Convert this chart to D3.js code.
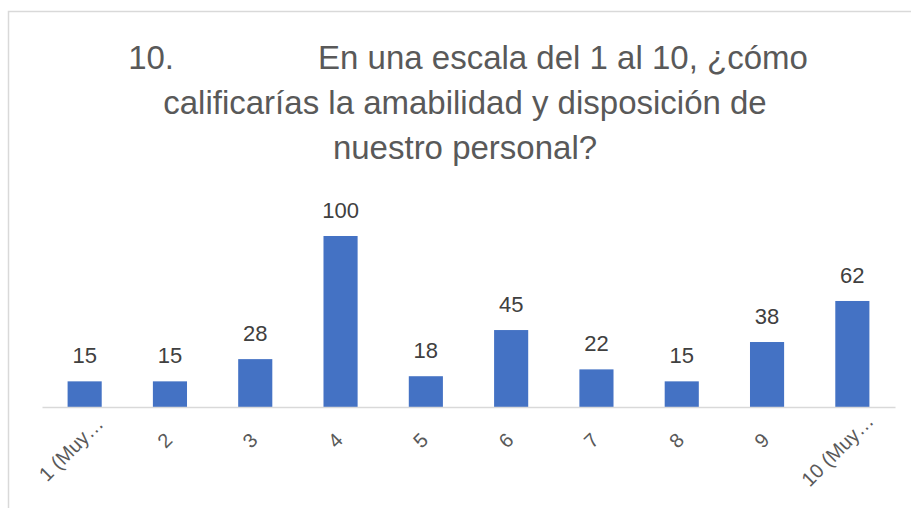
<!DOCTYPE html>
<html>
<head>
<meta charset="utf-8">
<script src="https://cdn.jsdelivr.net/npm/d3@7"></script>
<style>
  body { margin: 0; background: #fff; }
  text { font-family: "Liberation Sans", Arial, sans-serif; }
</style>
</head>
<body>
<div id="chart"></div>
<script>
// categories as shown on the x axis (Excel truncates the long ones)
var categories = ["1 (Muy…", "2", "3", "4", "5", "6", "7", "8", "9", "10 (Muy…"];
// number of answers per rating
var counts = [15, 15, 28, 100, 18, 45, 22, 15, 38, 62];
// title lines
var titleLine1 = ["10.", "En una escala del 1 al 10, ¿cómo"];
var titleLines = ["calificarías la amabilidad y disposición de", "nuestro personal?"];

var svgWidth = 911;
var svgHeight = 508;

var plot = { left: 42, right: 895, top: 236, bottom: 407 };

var svg = d3.select("#chart")
  .append("svg")
  .attr("width", svgWidth)
  .attr("height", svgHeight);

// chart border (only top and left are inside the picture)
svg.append("rect")
  .attr("x", 8.5)
  .attr("y", 11.5)
  .attr("width", 960)
  .attr("height", 560)
  .attr("fill", "#fff")
  .attr("stroke", "#d9d9d9")
  .attr("stroke-width", 1.5);

// title
var titleX = 468;
var t1 = svg.append("text")
  .attr("x", titleX)
  .attr("y", 69)
  .attr("text-anchor", "middle")
  .attr("font-size", 33)
  .attr("fill", "#595959");
t1.append("tspan").text(titleLine1[0]);
t1.append("tspan").attr("dx", 144).text(titleLine1[1]);

titleLines.forEach((line, i) => {
  svg.append("text")
    .attr("x", 465)
    .attr("y", 114 + i * 45)
    .attr("text-anchor", "middle")
    .attr("font-size", 33)
    .attr("fill", "#595959")
    .text(line);
});

// scales
var xScale = d3.scaleBand()
  .domain(categories)
  .range([plot.left, plot.right])
  .paddingInner(0.6)
  .paddingOuter(0.3);

var yScale = d3.scaleLinear()
  .domain([0, 100])
  .range([plot.bottom, plot.top]);

// bars
svg.append("g")
  .selectAll("rect")
  .data(counts)
  .enter().append("rect")
  .attr("x", (d, i) => xScale(categories[i]))
  .attr("y", d => yScale(d))
  .attr("width", xScale.bandwidth())
  .attr("height", d => yScale(0) - yScale(d))
  .attr("fill", "#4472c4");

// data labels
svg.append("g")
  .selectAll("text")
  .data(counts)
  .enter().append("text")
  .attr("x", (d, i) => xScale(categories[i]) + xScale.bandwidth() / 2)
  .attr("y", d => yScale(d) - 18)
  .attr("text-anchor", "middle")
  .attr("font-size", 22)
  .attr("fill", "#404040")
  .text(d => d);

// x axis line
var xAxis = d3.axisBottom(xScale).tickSize(0).tickFormat("");
var axisG = svg.append("g")
  .attr("transform", `translate(0, ${yScale(0)})`)
  .call(xAxis);
axisG.select(".domain")
  .attr("stroke", "#d9d9d9")
  .attr("stroke-width", 1.5);

// rotated category labels
var labelG = svg.append("g");
categories.forEach(c => {
  var cx = xScale(c) + xScale.bandwidth() / 2;
  var lab = labelG.append("text")
    .attr("text-anchor", "end")
    .attr("font-size", 20)
    .attr("fill", "#595959")
    .attr("transform", `translate(${cx + 1}, ${yScale(0) + 37}) rotate(-45)`)
    .text(c);
  var len = lab.node().getComputedTextLength();
  lab.attr("x", 0.33 * len);
});
</script>
</body>
</html>
